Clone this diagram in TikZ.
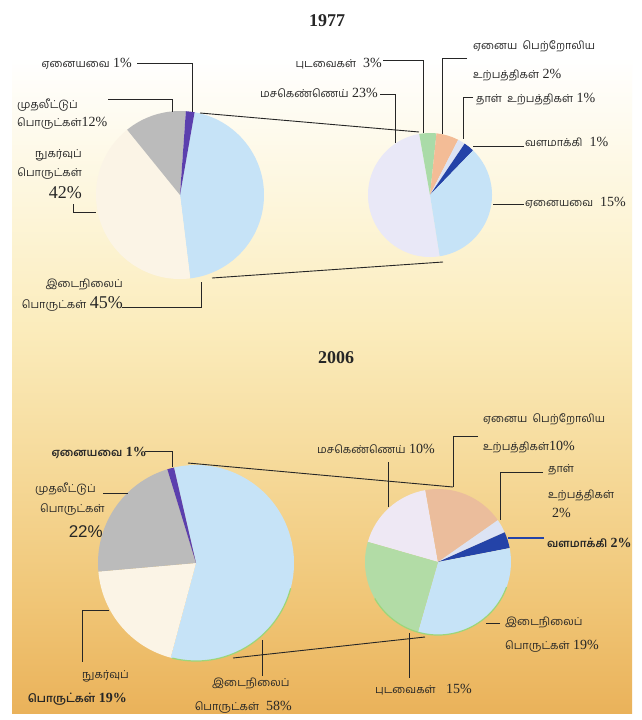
\documentclass[tikz,border=0pt]{standalone}
\usepackage{fontspec}
\setmainfont{Liberation Serif}
\newfontfamily\tm[Script=Tamil,Scale=0.78]{Hind Madurai}
\newfontfamily\sansf{Liberation Sans}
\definecolor{bgA}{HTML}{FFFFFF}
\definecolor{bgB}{HTML}{FDF6DC}
\definecolor{bgC}{HTML}{FBECBC}
\definecolor{bgD}{HTML}{F6DB9C}
\definecolor{bgE}{HTML}{F0C677}
\definecolor{bgF}{HTML}{EAB25A}
\definecolor{pblue}{HTML}{C6E3F7}
\definecolor{pcream}{HTML}{FBF4E6}
\definecolor{pgray}{HTML}{BBBBBB}
\definecolor{ppurple}{HTML}{5B3FAE}
\definecolor{plav}{HTML}{E9E8F7}
\definecolor{pgreen}{HTML}{AADBA8}
\definecolor{psalmon}{HTML}{F3BC96}
\definecolor{ppaper}{HTML}{DCE3F4}
\definecolor{pdark}{HTML}{2443A8}
\definecolor{qlav}{HTML}{EEE8F4}
\definecolor{qsalmon}{HTML}{EBBD9C}
\definecolor{qgreen}{HTML}{B2DCA6}
\definecolor{rimgreen}{HTML}{9CD67A}
\definecolor{inkc}{HTML}{262626}
\pgfdeclareverticalshading{bgshade}{100bp}{color(0bp)=(bgF); color(25bp)=(bgF); color(33bp)=(bgE); color(43bp)=(bgD); color(52bp)=(bgC); color(61bp)=(bgB); color(71bp)=(bgA); color(100bp)=(bgA)}
\newcommand\pslice[6]{\fill[#6] (#1,#2) -- ++(#4:#3pt) arc[start angle=#4, end angle=#5, radius=#3pt] -- cycle;}
\newcommand\bignum[1]{{\fontsize{18}{20}\selectfont #1}}
\tikzset{
  lab/.style={inner sep=0pt, text=inkc, font=\fontsize{14}{16}\selectfont},
  ttl/.style={inner sep=0pt, text=inkc, font=\fontsize{18}{20}\selectfont\bfseries},
  leader/.style={draw=inkc, line width=0.9pt},
  bleader/.style={draw=pdark, line width=1.1pt}
}
\begin{document}
\begin{tikzpicture}[x=1pt,y=-1pt]
\useasboundingbox (0,0) rectangle (642,720);
\fill[white] (0,0) rectangle (642,720);
\shade[shading=bgshade] (12,0) rectangle (632,713);

% ---------- 1977 left pie ----------
\pslice{180}{195}{84}{80}{-83}{pblue}
\pslice{180}{195}{84}{-83}{-231}{pcream}
\pslice{180}{195}{84}{129}{86}{pgray}
\pslice{180}{195}{84}{86}{80}{ppurple}
% ---------- 1977 right pie ----------
\pslice{430}{195}{62}{100}{279}{plav}
\pslice{430}{195}{62}{84}{100}{pgreen}
\pslice{430}{195}{62}{63}{84}{psalmon}
\pslice{430}{195}{62}{56}{63}{ppaper}
\pslice{430}{195}{62}{46}{56}{pdark}
\pslice{430}{195}{62}{-81}{46}{pblue}
% ---------- 2006 left pie ----------
\pslice{196}{563}{98}{103}{-105}{pblue}
\pslice{196}{563}{98}{-105}{-175}{pcream}
\pslice{196}{563}{98}{185}{107}{pgray}
\pslice{196}{563}{98}{107}{103}{ppurple}
\draw[rimgreen, line width=1.2pt] (196,563) ++(-15:98pt) arc[start angle=-15, end angle=-104, radius=98pt];
% ---------- 2006 right pie ----------
\pslice{438}{562}{73}{100}{164}{qlav}
\pslice{438}{562}{73}{35}{100}{qsalmon}
\pslice{438}{562}{73}{24}{35}{ppaper}
\pslice{438}{562}{73}{11}{24}{pdark}
\pslice{438}{562}{73}{-106}{11}{pblue}
\pslice{438}{562}{73}{164}{254}{qgreen}
\draw[rimgreen, line width=1.2pt] (438,562) ++(-20:73pt) arc[start angle=-20, end angle=-150, radius=73pt];

% ---------- titles ----------
\node[ttl, anchor=base] (t77) at (327,27) {1977};
\node[ttl, anchor=base] (t06) at (336,363) {2006};

% ---------- 1977 labels ----------
\node[lab, anchor=base east] (n1) at (132,67) {{\tm ஏனையவை}~1\%};
\node[lab, anchor=base west] (n2a) at (17,108) {\tm முதலீட்டுப்};
\node[lab, anchor=base west] (n2b) at (17,126) {{\tm பொருட்கள்}12\%};
\node[lab, anchor=base east] (n3a) at (82,157) {\tm நுகர்வுப்};
\node[lab, anchor=base east] (n3b) at (82,176) {\tm பொருட்கள்};
\node[lab, anchor=base east] (n3c) at (82,198) {\bignum{42\%}};
\node[lab, anchor=base east] (n4a) at (123,287) {\tm இடைநிலைப்};
\node[lab, anchor=base east] (n4b) at (123,308) {{\tm பொருட்கள்}~\bignum{45\%}};
\node[lab, anchor=base east] (n5) at (382,67) {{\tm புடவைகள்}~~3\%};
\node[lab, anchor=base east] (n6) at (378,97) {{\tm மசகெண்ணெய்}~23\%};
\node[lab, anchor=base west] (n7a) at (473,49) {\tm ஏனைய~~பெற்றோலிய};
\node[lab, anchor=base west] (n7b) at (473,78) {{\tm உற்பத்திகள்}~2\%};
\node[lab, anchor=base west] (n8) at (476,102) {{\tm தாள்~~உற்பத்திகள்}~1\%};
\node[lab, anchor=base west] (n9) at (525,146) {{\tm வளமாக்கி}~~1\%};
\node[lab, anchor=base west] (n10) at (525,206) {{\tm ஏனையவை}~~15\%};

% ---------- 2006 labels ----------
\node[lab, anchor=base east] (m1) at (147,456) {\bfseries{\tm ஏனையவை}~1\%};
\node[lab, anchor=base west] (m2a) at (35,492) {\tm முதலீட்டுப்};
\node[lab, anchor=base west] (m2b) at (40,512) {\tm பொருட்கள்};
\node[lab, anchor=base east] (m2c) at (103,537) {\sansf\fontsize{17}{19}\selectfont 22\%};
\node[lab, anchor=base west] (m3a) at (82,678) {\tm நுகர்வுப்};
\node[lab, anchor=base east] (m3b) at (127,702) {\bfseries{\tm பொருட்கள்}~19\%};
\node[lab, anchor=base west] (m4a) at (212,686) {\tm இடைநிலைப்};
\node[lab, anchor=base east] (m4b) at (292,710) {{\tm பொருட்கள்}~~58\%};
\node[lab, anchor=base east] (m5) at (435,453) {{\tm மசகெண்ணெய்}~10\%};
\node[lab, anchor=base west] (m6a) at (483,422) {\tm ஏனைய~~பெற்றோலிய};
\node[lab, anchor=base west] (m6b) at (483,450) {{\tm உற்பத்திகள்}10\%};
\node[lab, anchor=base west] (m7a) at (548,472) {\tm தாள்};
\node[lab, anchor=base west] (m7b) at (548,498) {\tm உற்பத்திகள்};
\node[lab, anchor=base west] (m7c) at (552,517) {2\%};
\node[lab, anchor=base west] (m8) at (547,547) {\bfseries{\tm வளமாக்கி}~2\%};
\node[lab, anchor=base west] (m9a) at (505,625) {\tm இடைநிலைப்};
\node[lab, anchor=base west] (m9b) at (505,649) {{\tm பொருட்கள்}~19\%};
\node[lab, anchor=base west] (m10) at (375,693) {{\tm புடவைகள்}~~~15\%};

% ---------- leader coordinates ----------
\coordinate (a1) at (137,63);  \coordinate (b1) at (192,112);
\coordinate (a2) at (108,99);  \coordinate (b2) at (172,112);
\coordinate (a3) at (73,204);  \coordinate (b3) at (96,212);
\coordinate (a4) at (122,307); \coordinate (b4) at (201,282);
\coordinate (a5) at (383,60);  \coordinate (b5) at (423,133);
\coordinate (a6) at (380,94);  \coordinate (b6) at (395,143);
\coordinate (a7) at (467,58);  \coordinate (b7) at (442,134);
\coordinate (a8) at (473,97);  \coordinate (b8) at (463,139);
\coordinate (a9) at (524,146); \coordinate (b9) at (473,146);
\coordinate (a10) at (524,204); \coordinate (b10) at (493,204);
\coordinate (c1a) at (200,113); \coordinate (c1b) at (419,132);
\coordinate (c2a) at (212,278); \coordinate (c2b) at (443,262);

\coordinate (a11) at (145,451); \coordinate (b11) at (172,467);
\coordinate (a12) at (103,493); \coordinate (b12) at (128,493);
\coordinate (a13) at (109,610); \coordinate (b13) at (82,662);
\coordinate (a14) at (262,640); \coordinate (b14) at (262,676);
\coordinate (a15) at (388,462); \coordinate (b15) at (388,507);
\coordinate (a16) at (478,436); \coordinate (b16) at (453,487);
\coordinate (a17) at (543,472); \coordinate (b17) at (500,520);
\coordinate (a18) at (544,538); \coordinate (b18) at (508,538);
\coordinate (a19) at (500,623); \coordinate (b19) at (486,623);
\coordinate (a20) at (409,633); \coordinate (b20) at (409,678);
\coordinate (c3a) at (188,463); \coordinate (c3b) at (453,487);
\coordinate (c4a) at (233,658); \coordinate (c4b) at (425,637);

\draw[leader] (a1) -| (b1);
\draw[leader] (a2) -| (b2);
\draw[leader] (a3) |- (b3);
\draw[leader] (a4) -| (b4);
\draw[leader] (a5) -| (b5);
\draw[leader] (a6) -| (b6);
\draw[leader] (a7) -| (b7);
\draw[leader] (a8) -| (b8);
\draw[leader] (a9) -- (b9);
\draw[leader] (a10) -- (b10);
\draw[leader] (c1a) -- (c1b);
\draw[leader] (c2a) -- (c2b);
\draw[leader] (a11) -| (b11);
\draw[leader] (a12) -- (b12);
\draw[leader] (a13) -| (b13);
\draw[leader] (a14) -- (b14);
\draw[leader] (a15) -- (b15);
\draw[leader] (a16) -| (b16);
\draw[leader] (a17) -| (b17);
\draw[bleader] (a18) -- (b18);
\draw[leader] (a19) -- (b19);
\draw[leader] (a20) -- (b20);
\draw[leader] (c3a) -- (c3b);
\draw[leader] (c4a) -- (c4b);
\end{tikzpicture}
\end{document}
